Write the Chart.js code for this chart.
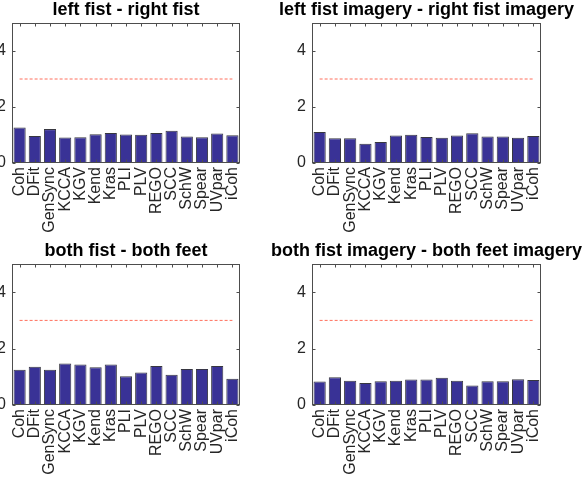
<!DOCTYPE html>
<html>
<head>
<meta charset="utf-8">
<script src="https://cdn.jsdelivr.net/npm/chart.js@4.4.1/dist/chart.umd.min.js"></script>
<style>
  body { margin: 0; background: #fff; width: 584px; height: 483px; overflow: hidden; position: relative; }
  canvas { position: absolute; }
</style>
</head>
<body>
<canvas id="c1" width="288" height="244" style="left:-18px;top:-1px"></canvas>
<canvas id="c2" width="329" height="244" style="left:262px;top:-1px"></canvas>
<canvas id="c3" width="288" height="245" style="left:-18px;top:240px"></canvas>
<canvas id="c4" width="329" height="245" style="left:262px;top:240px"></canvas>
<script>
const methods = ["Coh", "DFit", "GenSync", "KCCA", "KGV", "Kend", "Kras", "PLI", "PLV", "REGO", "SCC", "SchW", "Spear", "UVpar", "iCoh"];

const leftRightFist = [1.27, 0.96, 1.21, 0.91, 0.92, 1.03, 1.07, 1.02, 1.01, 1.07, 1.15, 0.95, 0.92, 1.05, 0.99];
const leftRightImagery = [1.11, 0.88, 0.88, 0.69, 0.75, 0.98, 1.01, 0.93, 0.90, 0.98, 1.06, 0.95, 0.95, 0.90, 0.96];
const fistFeet = [1.25, 1.36, 1.25, 1.47, 1.44, 1.34, 1.44, 1.02, 1.15, 1.38, 1.07, 1.28, 1.28, 1.38, 0.93];
const fistFeetImagery = [0.83, 0.98, 0.86, 0.78, 0.84, 0.86, 0.90, 0.90, 0.97, 0.86, 0.69, 0.84, 0.84, 0.91, 0.89];

// significance level drawn as the dashed red line
const threshold = [3, 3, 3, 3, 3, 3, 3, 3, 3, 3, 3, 3, 3, 3, 3];

const yTicks = [0, 2, 4];
const yMax = 5;

// side = width kept left and right of the plot so the title centres on it
const panels = [
  { id: "c1", title: "left fist - right fist", values: leftRightFist, side: 30 },
  { id: "c2", title: "left fist imagery - right fist imagery", values: leftRightImagery, side: 50 },
  { id: "c3", title: "both fist - both feet", values: fistFeet, side: 30 },
  { id: "c4", title: "both fist imagery - both feet imagery", values: fistFeetImagery, side: 50 },
];

const font = "'Liberation Sans', Arial, Helvetica, sans-serif";

// matlab style box with ticks drawn inside the axes
const boxTicks = {
  id: "boxTicks",
  afterDraw(chart) {
    const { ctx, chartArea: a, scales: { x, y } } = chart;
    const L = Math.round(a.left) + 0.5, R = Math.round(a.right) - 0.5;
    const T = Math.round(a.top) + 0.5, B = Math.round(a.bottom) - 0.5;
    ctx.save();
    ctx.strokeStyle = "#4d4d4d";
    ctx.lineWidth = 1;
    ctx.beginPath();
    x.ticks.forEach((t, i) => {
      const px = Math.round(x.getPixelForTick(i)) + 0.5;
      ctx.moveTo(px, B); ctx.lineTo(px, B - 3);
      ctx.moveTo(px, T); ctx.lineTo(px, T + 3);
    });
    yTicks.forEach((v) => {
      const py = Math.round(y.getPixelForValue(v)) + 0.5;
      ctx.moveTo(L, py); ctx.lineTo(L + 3, py);
      ctx.moveTo(R, py); ctx.lineTo(R - 3, py);
    });
    ctx.stroke();
    ctx.strokeRect(L, T, R - L, B - T);
    ctx.restore();
  },
};

const makeChart = ({ id, title, values, side }) => {
  new Chart(document.getElementById(id), {
    data: {
      labels: methods,
      datasets: [
        {
          type: "line",
          data: threshold,
          borderColor: "#ff6f5c",
          borderWidth: 1,
          borderDash: [3, 2],
          pointRadius: 0,
          fill: false,
        },
        {
          type: "bar",
          data: values,
          backgroundColor: "rgb(57, 50, 150)",
          borderColor: "rgba(20, 20, 30, 0.85)",
          borderWidth: 1,
          barPercentage: 0.8,
          categoryPercentage: 1,
        },
      ],
    },
    options: {
      responsive: false,
      animation: false,
      devicePixelRatio: 1,
      layout: { padding: 0 },
      plugins: {
        legend: { display: false },
        tooltip: { enabled: false },
        title: {
          display: true,
          text: title,
          color: "#000",
          font: { family: font, size: 18, weight: "bold", lineHeight: 1.2 },
          padding: { top: 0.5, bottom: 1.9 },
        },
      },
      scales: {
        x: {
          offset: true,
          grid: { display: false, drawTicks: false },
          border: { display: false },
          ticks: {
            autoSkip: false,
            minRotation: 90,
            maxRotation: 90,
            padding: 4,
            color: "#262626",
            font: { family: font, size: 16 },
          },
          afterFit: (scale) => { scale.height = 80; },
        },
        y: {
          min: 0,
          max: yMax,
          grid: { display: false, drawTicks: false },
          border: { display: false },
          ticks: {
            padding: 6,
            color: "#262626",
            font: { family: font, size: 16 },
          },
          afterBuildTicks: (scale) => { scale.ticks = yTicks.map((v) => ({ value: v })); },
          afterFit: (scale) => { scale.width = side; },
        },
        // empty right axis, only keeps the plot centred under the title
        yRight: {
          position: "right",
          grid: { display: false, drawTicks: false },
          border: { display: false },
          ticks: { display: false },
          afterFit: (scale) => { scale.width = side; },
        },
      },
    },
    plugins: [boxTicks],
  });
};

panels.forEach(makeChart);
</script>
</body>
</html>
